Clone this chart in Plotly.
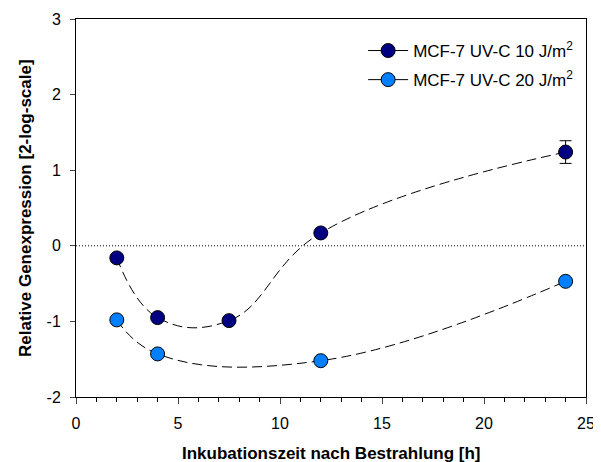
import plotly.graph_objects as go

hours_10 = [2, 4, 7.5, 12, 24]
expr_10 = [-0.16, -0.95, -0.99, 0.17, 1.24]
err_10 = [0, 0, 0, 0, 0.15]
hours_20 = [2, 4, 12, 24]
expr_20 = [-0.98, -1.43, -1.52, -0.47]
name_10 = "MCF-7 UV-C 10 J/m<sup>2</sup>"
name_20 = "MCF-7 UV-C 20 J/m<sup>2</sup>"
x_ticks = [0, 5, 10, 15, 20, 25]
y_ticks = [-2, -1, 0, 1, 2, 3]
y_ticktext = ["-2", "-1", "0", "1", "2", "3"]
x_title = "Inkubationszeit nach Bestrahlung [h]"
y_title = "Relative Genexpression [2-log-scale]"

dark = "#000080"
light = "#0080FF"
font = "Liberation Sans, Arial, sans-serif"

fig = go.Figure()

fig.add_trace(go.Scatter(
    x=[0, 25], y=[0, 0], mode="lines",
    line=dict(color="black", width=1, dash="1px,2px"),
    showlegend=False, hoverinfo="skip"))

for xs, ys, col, err in [(hours_10, expr_10, dark, err_10), (hours_20, expr_20, light, None)]:
    fig.add_trace(go.Scatter(
        x=xs, y=ys, mode="lines+markers",
        line=dict(color="black", width=1, dash="10px,5px", shape="spline", smoothing=1.2),
        marker=dict(size=14, color=col, line=dict(color="black", width=1)),
        error_y=(dict(type="data", array=err, color="black", thickness=1, width=6, visible=True) if err else None),
        showlegend=False))

for nm, col, g in [(name_10, dark, "a"), (name_20, light, "b")]:
    fig.add_trace(go.Scatter(
        x=[None], y=[None], mode="lines+markers", name=nm, legendgroup=g,
        line=dict(color="black", width=1),
        marker=dict(size=14, color=col, line=dict(color="black", width=1))))

# page body adds an 8px offset, so the figure is sized 8px smaller
fig.update_layout(
    width=593, height=454,
    margin=dict(l=68, r=15, t=11, b=65),
    paper_bgcolor="white", plot_bgcolor="white",
    font=dict(family=font, size=16, color="black"),
    legend=dict(x=0.563, y=0.963, xanchor="left", yanchor="top",
                bgcolor="rgba(0,0,0,0)", font=dict(size=17), itemwidth=40,
                traceorder="grouped", tracegroupgap=4),
    xaxis=dict(range=[0, 25], tickvals=x_ticks, ticks="outside", ticklen=6,
               showline=True, linecolor="black", mirror=True, showgrid=False, zeroline=False,
               automargin=False, ticklabelstandoff=6,
               minor=dict(dtick=1, ticks="outside", ticklen=4, tickcolor="black")),
    yaxis=dict(range=[-2, 3], tickvals=y_ticks, ticktext=y_ticktext, ticks="outside", ticklen=5,
               showline=True, linecolor="black", mirror=True, showgrid=False, zeroline=False,
               automargin=False, ticklabelstandoff=6),
    annotations=[
        dict(text="<b>" + x_title + "</b>", xref="paper", yref="paper", x=0.5, y=0,
             xanchor="center", yanchor="top", yshift=-45, showarrow=False, font=dict(size=17)),
        dict(text="<b>" + y_title + "</b>", xref="paper", yref="paper", x=0, y=0.5,
             xanchor="center", yanchor="middle", xshift=-51, textangle=-90, showarrow=False,
             font=dict(size=17)),
    ],
)

fig.write_html("out.html")
